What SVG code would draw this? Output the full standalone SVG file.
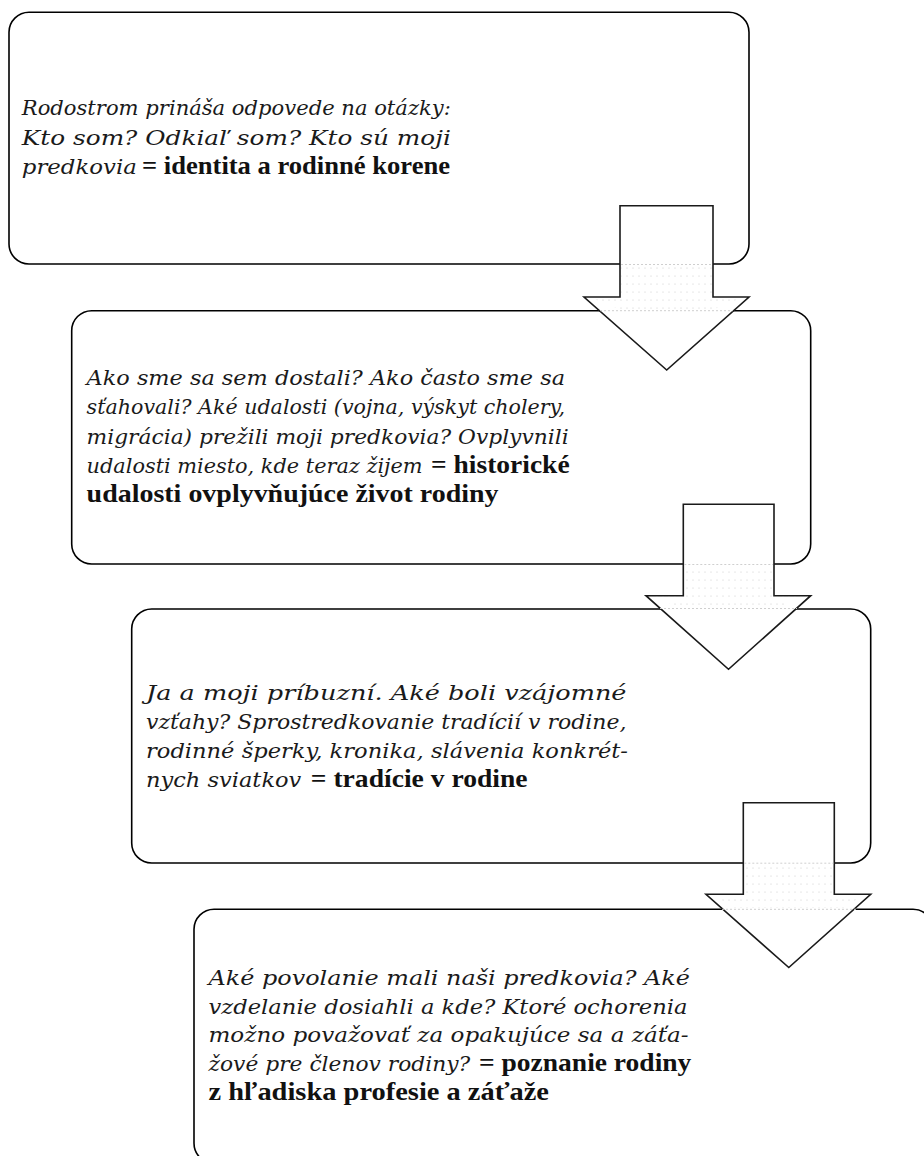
<svg xmlns="http://www.w3.org/2000/svg" width="924" height="1156" viewBox="0 0 924 1156">
<defs>
<style>
.box{fill:#fff;stroke:#000;stroke-width:1.6}
.arrow{fill:#fff;stroke:#1a1a1a;stroke-width:1.6;stroke-linejoin:miter}
.trace{fill:none;stroke:#cfcfcf;stroke-width:1;stroke-dasharray:2 2}
.i{font-family:'DejaVu Serif',serif;font-style:italic;font-size:21px;fill:#1a1a1a}
.b{font-family:'Liberation Serif',serif;font-weight:bold;font-size:25px;fill:#111}
</style>
<pattern id="dots" width="6" height="8" patternUnits="userSpaceOnUse">
<circle cx="3" cy="4" r="0.6" fill="#c8c8c8"/>
</pattern>
</defs>
<g id="node1">
<rect class="box" x="9" y="12.3" width="740" height="251.7" rx="20" ry="20"/>
<text class="i" x="21.8" y="115" textLength="429" lengthAdjust="spacingAndGlyphs">Rodostrom prináša odpovede na otázky:</text>
<text class="i" x="21.8" y="144.5" textLength="429" lengthAdjust="spacingAndGlyphs">Kto som? Odkiaľ som? Kto sú moji</text>
<text class="i" x="21.8" y="174" textLength="115" lengthAdjust="spacingAndGlyphs">predkovia</text>
<text class="b" x="142" y="174" textLength="308" lengthAdjust="spacingAndGlyphs">= identita a rodinné korene</text>
</g>
<g id="node2">
<rect class="box" x="71.7" y="310.7" width="739" height="253.3" rx="20" ry="20"/>
<text class="i" x="86.6" y="385" textLength="478.4" lengthAdjust="spacingAndGlyphs">Ako sme sa sem dostali? Ako často sme sa</text>
<text class="i" x="86.6" y="414.3" textLength="478.4" lengthAdjust="spacingAndGlyphs">sťahovali? Aké udalosti (vojna, výskyt cholery,</text>
<text class="i" x="86.6" y="443.6" textLength="482" lengthAdjust="spacingAndGlyphs">migrácia) prežili moji predkovia? Ovplyvnili</text>
<text class="i" x="86.6" y="473" textLength="336" lengthAdjust="spacingAndGlyphs">udalosti miesto, kde teraz žijem</text>
<text class="b" x="431" y="473" textLength="138.6" lengthAdjust="spacingAndGlyphs">= historické</text>
<text class="b" x="86.6" y="502" textLength="412" lengthAdjust="spacingAndGlyphs">udalosti ovplyvňujúce život rodiny</text>
</g>
<g id="node3">
<rect class="box" x="131.7" y="609" width="739" height="254" rx="20" ry="20"/>
<text class="i" x="146" y="700" textLength="480.5" lengthAdjust="spacingAndGlyphs">Ja a moji príbuzní. Aké boli vzájomné</text>
<text class="i" x="146" y="729" textLength="480.5" lengthAdjust="spacingAndGlyphs">vzťahy? Sprostredkovanie tradícií v rodine,</text>
<text class="i" x="146" y="758" textLength="482" lengthAdjust="spacingAndGlyphs">rodinné šperky, kronika, slávenia konkrét-</text>
<text class="i" x="146" y="787" textLength="155.3" lengthAdjust="spacingAndGlyphs">nych sviatkov</text>
<text class="b" x="310.8" y="787" textLength="216.8" lengthAdjust="spacingAndGlyphs">= tradície v rodine</text>
</g>
<g id="node4">
<rect class="box" x="194" y="909.3" width="739" height="254" rx="20" ry="20"/>
<text class="i" x="208.5" y="985" textLength="481.5" lengthAdjust="spacingAndGlyphs">Aké povolanie mali naši predkovia? Aké</text>
<text class="i" x="208.5" y="1013.7" textLength="479" lengthAdjust="spacingAndGlyphs">vzdelanie dosiahli a kde? Ktoré ochorenia</text>
<text class="i" x="208.5" y="1042.4" textLength="480" lengthAdjust="spacingAndGlyphs">možno považovať za opakujúce sa a záťa-</text>
<text class="i" x="208.5" y="1071.1" textLength="261.8" lengthAdjust="spacingAndGlyphs">žové pre členov rodiny?</text>
<text class="b" x="478.9" y="1071.1" textLength="212.5" lengthAdjust="spacingAndGlyphs">= poznanie rodiny</text>
<text class="b" x="208.5" y="1100" textLength="340.5" lengthAdjust="spacingAndGlyphs">z hľadiska profesie a záťaže</text>
</g>
<g id="connectors">
<g id="arrow1">
<polygon class="arrow" points="620,205.7 713,205.7 713,297 749,297 666.7,370 584,297 620,297"/>
<polygon points="621,265 712,265 712,298 741,298 712,310 621,310 592,298 621,298" fill="url(#dots)"/>
<line class="trace" x1="621" y1="264.5" x2="712" y2="264.5"/>
<line class="trace" x1="600" y1="310.7" x2="733" y2="310.7"/>
</g>
<g id="arrow2">
<polygon class="arrow" points="683.3,504.3 774,504.3 774,595.7 810.7,595.7 728.5,669.3 646,595.7 683.3,595.7"/>
<polygon points="684.3,565 773,565 773,596.7 802,596.7 777,608 680,608 655,596.7 684.3,596.7" fill="url(#dots)"/>
<line class="trace" x1="684.3" y1="564.5" x2="773" y2="564.5"/>
<line class="trace" x1="660" y1="608.5" x2="797" y2="608.5"/>
</g>
<g id="arrow3">
<polygon class="arrow" points="743.3,802.7 834.3,802.7 834.3,894.3 870.7,894.3 788.8,967.5 706,894.3 743.3,894.3"/>
<polygon points="744.3,864 833.3,864 833.3,895.3 862,895.3 845,908 733,908 715,895.3 744.3,895.3" fill="url(#dots)"/>
<line class="trace" x1="744.3" y1="863.2" x2="833.3" y2="863.2"/>
<line class="trace" x1="722" y1="909.3" x2="856" y2="909.3"/>
</g>
</g>
</svg>
